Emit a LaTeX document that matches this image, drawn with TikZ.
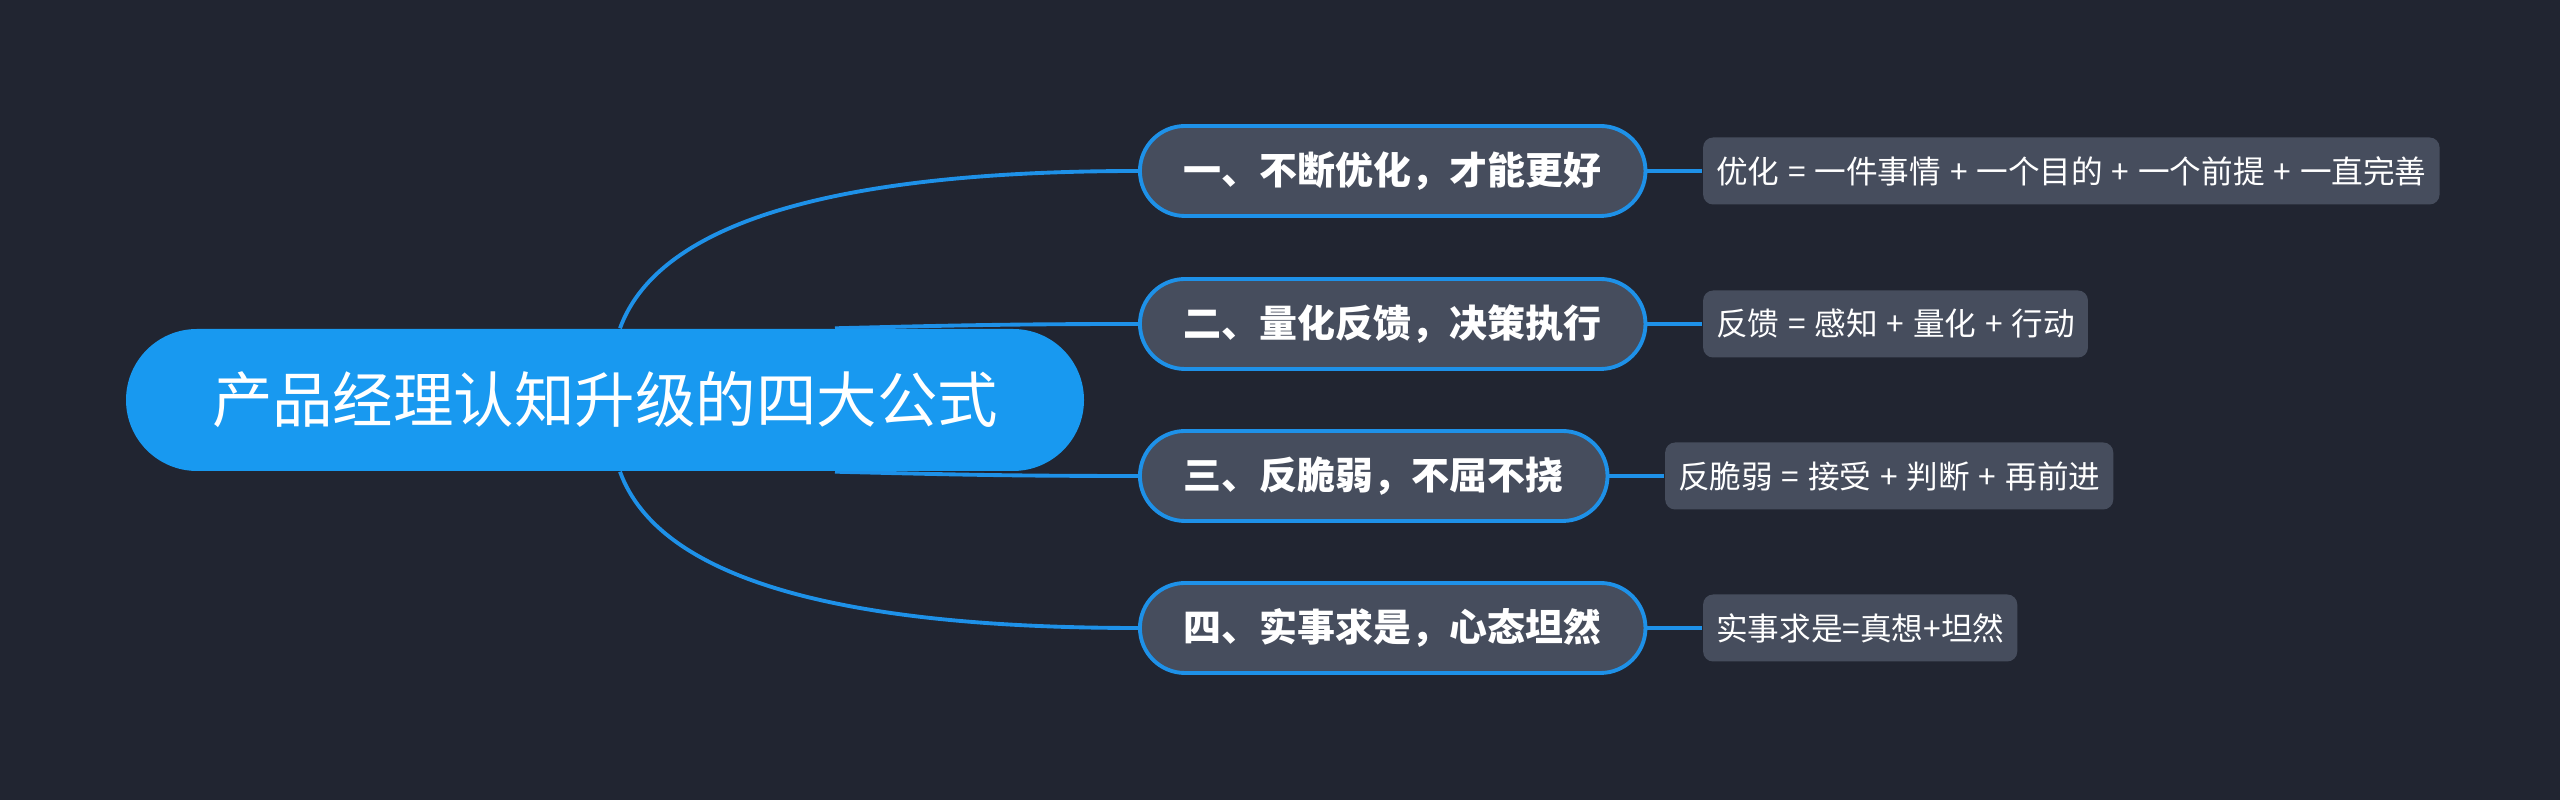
\documentclass[tikz,border=0pt]{standalone}
\usepackage{fontspec}
\newfontfamily\cjk{Noto Sans CJK SC}
\newfontfamily\cjkdetail[WordSpace=1.25]{Noto Sans CJK SC}
\usetikzlibrary{positioning, backgrounds}

\definecolor{bgdark}{RGB}{33,37,49}
\definecolor{rootblue}{RGB}{24,153,240}
\definecolor{linkblue}{RGB}{30,145,232}
\definecolor{topicgray}{RGB}{70,77,93}

\begin{document}
\begin{tikzpicture}[
    node distance=5.5mm,
    root/.style={rectangle, rounded corners=7.1mm, fill=rootblue, minimum width=9.58cm, minimum height=1.42cm, text=white, font=\cjk\fontsize{17.2}{21}\selectfont},
    topic/.style={rectangle, rounded corners=4.5mm, draw=linkblue, line width=1.1pt, fill=topicgray, minimum height=9mm, inner xsep=4.4mm, text=white, font=\cjk\bfseries\fontsize{10.8}{13}\selectfont},
    detail/.style={rectangle, rounded corners=1mm, fill=topicgray, minimum height=6.7mm, inner xsep=1.3mm, text=white, font=\cjkdetail\fontsize{9}{11}\selectfont},
    link/.style={draw=linkblue, line width=1.1pt}
]

% Central topic
\node[root] (root) at (6.05,4.00) {产品经理认知升级的四大公式};

% Main branches
\node[topic, anchor=west] (t1) at (11.38,6.29) {一、不断优化，才能更好};
\node[topic, anchor=west] (t2) at (11.38,4.76) {二、量化反馈，决策执行};
\node[topic, anchor=west] (t3) at (11.38,3.24) {三、反脆弱，不屈不挠};
\node[topic, anchor=west] (t4) at (11.38,1.72) {四、实事求是，心态坦然};

% Formulas
\node[detail, right=of t1] (d1) {优化 = 一件事情 + 一个目的 + 一个前提 + 一直完善};
\node[detail, right=of t2] (d2) {反馈 = 感知 + 量化 + 行动};
\node[detail, right=of t3] (d3) {反脆弱 = 接受 + 判断 + 再前进};
\node[detail, right=of t4] (d4) {实事求是=真想+坦然};

\begin{scope}[on background layer]
\fill[bgdark] (0,0) rectangle (25.6,8);
% Root to branches
\draw[link] ([xshift=1.5mm]root.north) .. controls +(0.4,1.1) and +(-2.9,0) .. (t1.west);
\draw[link] ([xshift=2.3cm]root.north) .. controls +(1.2,0.03) and +(-1.2,0) .. (t2.west);
\draw[link] ([xshift=2.3cm]root.south) .. controls +(1.2,-0.03) and +(-1.2,0) .. (t3.west);
\draw[link] ([xshift=1.5mm]root.south) .. controls +(0.4,-1.1) and +(-2.9,0) .. (t4.west);
% Branches to formulas
\draw[link] (t1) -- (d1);
\draw[link] (t2) -- (d2);
\draw[link] (t3) -- (d3);
\draw[link] (t4) -- (d4);
\end{scope}

\useasboundingbox (0,0) rectangle (25.6,8);
\end{tikzpicture}
\end{document}
